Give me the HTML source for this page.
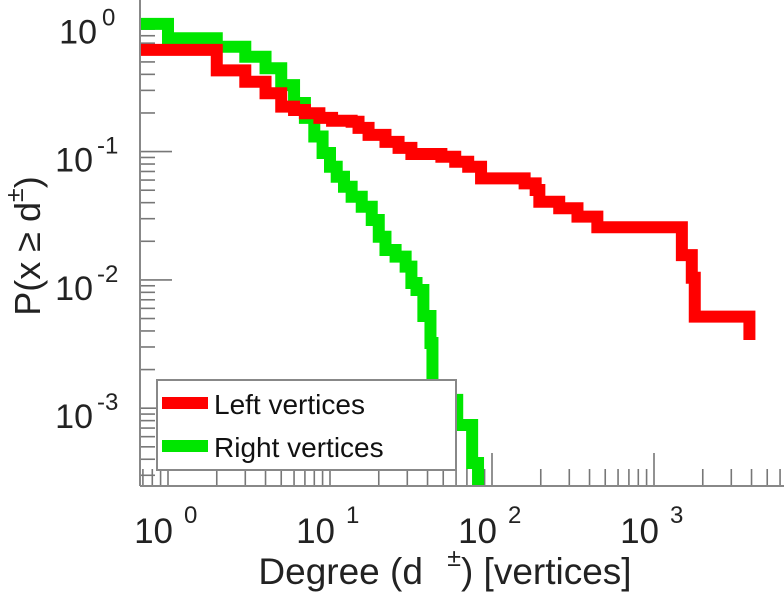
<!DOCTYPE html>
<html><head><meta charset="utf-8"><style>
html,body{margin:0;padding:0;background:#fff;}
svg{display:block;font-family:"Liberation Sans",sans-serif;}
</style></head><body>
<svg id="chart" width="784" height="600" viewBox="0 0 784 600" xmlns="http://www.w3.org/2000/svg">
<defs><clipPath id="plotclip"><rect x="140" y="0" width="644" height="486"/></clipPath></defs>
<g id="ticks"></g>
<g id="series" clip-path="url(#plotclip)"></g>
<line x1="140" y1="0" x2="140" y2="486" stroke="#888" stroke-width="2"/>
<line x1="140" y1="486" x2="784" y2="486" stroke="#888" stroke-width="2"/>
<g id="labels"></g>
<text x="445" y="584" font-size="37" text-anchor="middle" fill="#222">Degree (d <tspan dx="14" dy="-18" font-size="25">±</tspan><tspan dy="18">) [vertices]</tspan></text>
<text transform="translate(40,246) rotate(-90)" font-size="36" text-anchor="middle" fill="#222">P(x ≥ d<tspan dy="-17" font-size="25">±</tspan><tspan dy="17">)</tspan></text>
<g>
<rect x="157" y="380" width="299" height="90" fill="#fff" stroke="#888" stroke-width="2"/>
<line x1="162" y1="403" x2="208" y2="403" stroke="#ff0000" stroke-width="12"/>
<text x="214" y="414" font-size="28" fill="#111">Left vertices</text>
<line x1="162" y1="446" x2="208" y2="446" stroke="#00e600" stroke-width="12"/>
<text x="214" y="457" font-size="28" fill="#111">Right vertices</text>
</g>
</svg>
<script>
const leftDeg = [0.67,2,3,4,5,6,7,8.6,10.3,13.6,15,17.3,22,26.5,31.8,48.7,59.3,71.3,85.6,159,186,196,260,337,447,1486,1711,1785,3881];
const leftP = [0.62,0.43,0.35,0.285,0.224,0.211,0.199,0.183,0.174,0.171,0.153,0.135,0.119,0.107,0.0958,0.0912,0.0834,0.0762,0.0619,0.0566,0.0502,0.0407,0.0362,0.0311,0.0257,0.0156,0.0104,0.00517,0.0034];
const rightDeg = [0.67,1,2,3,4,5,6,7,8,9,10,11,12.2,13.6,15.7,18.1,20,22,25.4,29.3,31.8,34.2,37.7,41.7,42.9,61,75.4,82];
const rightP = [0.99,0.764,0.657,0.549,0.446,0.33,0.239,0.183,0.131,0.0975,0.0762,0.0637,0.0532,0.0445,0.0372,0.0293,0.0217,0.0171,0.0152,0.0127,0.00946,0.00834,0.00523,0.00322,0.00116,0.00074,0.000374,0.00021];
const xTickExps = [0,1,2,3];
const yTickExps = [0,-1,-2,-3];

const NS = "http://www.w3.org/2000/svg";
function xs(d){ return 168 + 162*Math.log10(d); }
function ys(p){ return 23.3 - 128.3*Math.log10(p); }
function mk(tag, attrs, parent){ const e=document.createElementNS(NS,tag); for(const k in attrs) e.setAttribute(k,attrs[k]); parent.appendChild(e); return e; }

const ticks = document.getElementById('ticks');
for(let e=-1;e<=3;e++){ for(let m=1;m<10;m++){
  const x = xs(m*Math.pow(10,e)); if(x<140||x>784) continue;
  const len = m===1?33:17;
  const t = mk('line',{x1:x,y1:486,x2:x,y2:486-len,stroke:'#777','stroke-width':1.6},ticks);
  
  
}}
for(let e=-4;e<=0;e++){ for(let m=1;m<10;m++){
  const y = ys(m*Math.pow(10,e)); if(y<0||y>486) continue;
  const len = m===1?32:15;
  const t = mk('line',{x1:140,y1:y,x2:140+len,y2:y,stroke:'#777','stroke-width':1.6},ticks);
  
  
}}
const labels = document.getElementById('labels');
xTickExps.forEach(ex=>{
  const x = xs(Math.pow(10,ex));
  const t = mk('text',{x:x+5,y:543,'font-size':35,'text-anchor':'end',fill:'#222'},labels);
  t.textContent='10';
  
  
  const s = mk('text',{x:x+16,y:523,'font-size':24,fill:'#222'},labels);
  s.textContent=String(ex);
  
  
});
yTickExps.forEach(ex=>{
  const y = ys(Math.pow(10,ex));
  const t = mk('text',{x:ex===0?97:93,y:y+20,'font-size':34,'text-anchor':'end',fill:'#222'},labels);
  t.textContent='10';
  
  
  const s = mk('text',{x:ex===0?102:97,y:y+2,'font-size':24,fill:'#222'},labels);
  s.textContent=String(ex);
  
  
});
function stairs(deg,p){
  let d='M'+xs(deg[0])+','+ys(p[0]);
  for(let i=1;i<deg.length;i++){ d+=' H'+xs(deg[i])+' V'+ys(p[i]); }
  return d;
}
const series = document.getElementById('series');
const g = mk('path',{d:stairs(rightDeg,rightP),fill:'none',stroke:'#00e600','stroke-width':12,'stroke-linejoin':'miter'},series);


const r = mk('path',{d:stairs(leftDeg,leftP),fill:'none',stroke:'#ff0000','stroke-width':12,'stroke-linejoin':'miter'},series);


</script>
</body></html>
